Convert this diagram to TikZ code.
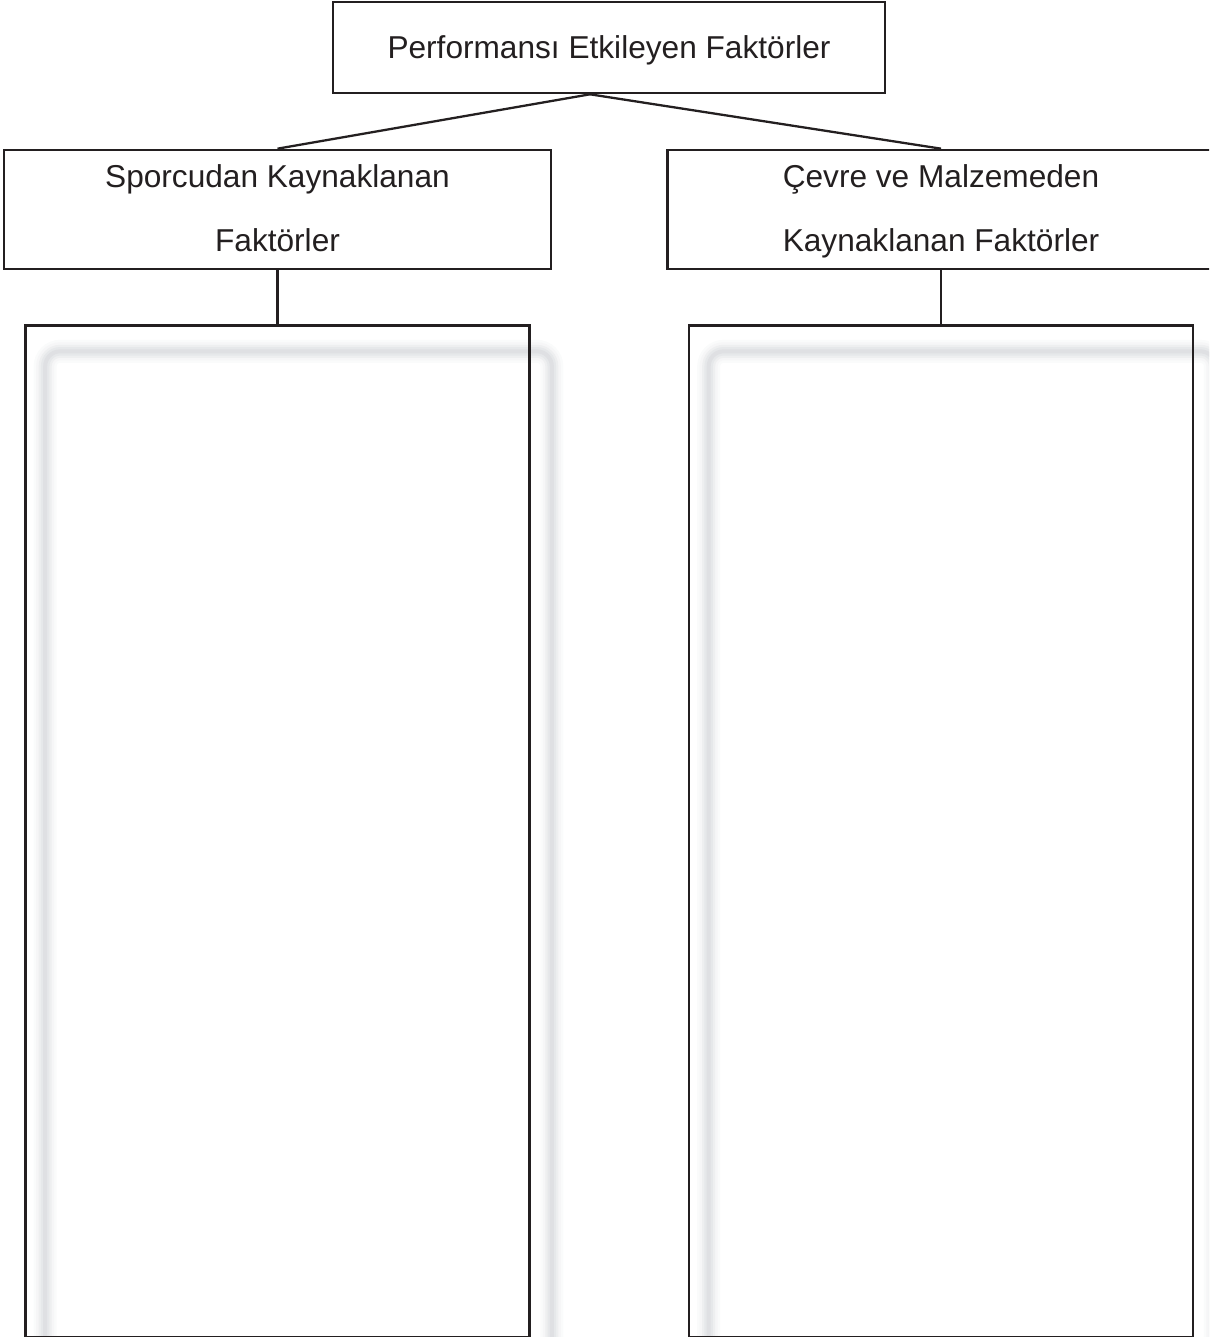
\documentclass[tikz,border=0pt]{standalone}
\usepackage{fontspec}
\setmainfont{Liberation Sans}
\usetikzlibrary{positioning}
\definecolor{ink}{HTML}{231F20}
\definecolor{haze}{HTML}{D9DBDE}
\newcommand{\topline}[1]{\rule{0pt}{#1}}
\newcommand{\lowline}{\rule[-4.1pt]{0pt}{0pt}}

\begin{document}
\begin{tikzpicture}[
  font=\fontsize{18}{36.4}\selectfont,
  box/.style={draw=ink, line width=1.5pt, align=center, inner sep=0pt, text=ink},
  head/.style={box, minimum width=11.04cm, minimum height=1.82cm},
  group/.style={box, minimum width=10.94cm, minimum height=2.38cm},
  list/.style={box, minimum width=10.08cm, minimum height=20.24cm},
  con/.style={draw=ink, line width=1.3pt},
  blur/.style={rounded corners=0.3cm}
]
\clip (0,0) rectangle (24.18,-26.74);
% top
\node[head] (perf) at (12.18,-0.95) {\topline{17pt}Performansı Etkileyen Faktörler\lowline};
\coordinate (apex) at ([xshift=-0.38cm]perf.south);
% second row
\node[group] (athlete) at (5.55,-4.19) {\topline{15.5pt}Sporcudan Kaynaklanan\\Faktörler\lowline};
\node[group] (env) at (18.82,-4.19) {\topline{15.5pt}Çevre ve Malzemeden\\Kaynaklanan Faktörler\lowline};
% empty lists
\node[list, below=1.08cm of athlete] (athleteList) {};
\node[list, below=1.08cm of env] (envList) {};
% shadows
\foreach \w/\c in {0.46/12, 0.36/25, 0.26/45, 0.17/65, 0.08/85}{
  \draw[blur, haze!\c, line width=\w cm]
    ([xshift=0.42cm,yshift=-0.54cm]athleteList.north west) rectangle ([xshift=0.42cm,yshift=-0.54cm]athleteList.south east);
  \draw[blur, haze!\c, line width=\w cm]
    ([xshift=0.42cm,yshift=-0.54cm]envList.north west) rectangle ([xshift=0.42cm,yshift=-0.54cm]envList.south east);
}
\node[list] at (athleteList) {};
\node[list] at (envList) {};
% connectors
\draw[con] (apex) -- (athlete.north);
\draw[con] (apex) -- (env.north);
\draw[con] (athlete.south) -- (athleteList.north);
\draw[con] (env.south) -- (envList.north);
\end{tikzpicture}
\end{document}
